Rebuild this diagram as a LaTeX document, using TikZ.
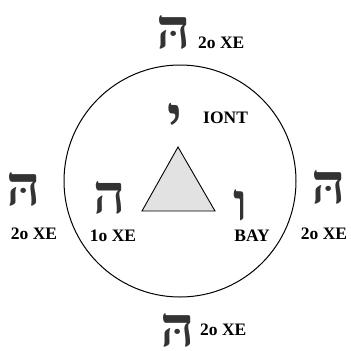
\documentclass[tikz,border=0pt]{standalone}
\usepackage{fontspec}
\setmainfont{Liberation Serif}
\newfontfamily\hebfont[Script=Hebrew]{Liberation Serif}
\TeXXeTstate=1
\usepackage{tikz}
\definecolor{glyph}{HTML}{333333}
\definecolor{tri}{HTML}{E2E2E2}
\newcommand{\tallglyph}[2]{\scalebox{1}[#1]{\beginR #2\endR}}

\begin{document}
\begin{tikzpicture}[x=1pt, y=-1pt,
  letter/.style={inner sep=0pt, text=glyph, font=\hebfont\bfseries\fontsize{56}{56}\selectfont},
  bigletter/.style={letter, font=\hebfont\bfseries\fontsize{60}{60}\selectfont},
  lbl/.style={inner sep=0pt, font=\bfseries\fontsize{17.5}{17.5}\selectfont},
]
\useasboundingbox (0,0) rectangle (351,351);

\draw[line width=1pt] (180,181) circle (116);
\draw[line width=0.9pt, fill=tri] (178,147) -- (142,211) -- (215,211) -- cycle;

\node[bigletter, anchor=base] (heTop) at (174,48) {\tallglyph{0.93}{הּ}};
\node[lbl, anchor=base west] (lblTop) at (198,48) {2o XE};
\node[bigletter, anchor=base] (heLeft) at (24,205) {\tallglyph{0.93}{הּ}};
\node[lbl, anchor=base] (lblLeft) at (34,239) {2o XE};
\node[bigletter, anchor=base] (heRight) at (329,203) {\tallglyph{0.93}{הּ}};
\node[lbl, anchor=base] (lblRight) at (324,239) {2o XE};
\node[bigletter, anchor=base] (heBottom) at (178,346) {\tallglyph{0.93}{הּ}};
\node[lbl, anchor=base west] (lblBottom) at (200,335) {2o XE};

\node[letter, anchor=base] (heFirst) at (110,213) {\tallglyph{0.97}{ה}};
\node[lbl, anchor=base] (lblFirst) at (113,241) {1o XE};
\node[letter, anchor=base] (vav) at (241,220) {\tallglyph{0.93}{ו}};
\node[lbl, anchor=base] (lblVav) at (252,241) {BAY};
\node[letter, anchor=north] (yod) at (175,103) {\tallglyph{1.1}{י}};
\node[lbl, anchor=base west] (lblYod) at (203,123) {IONT};

\end{tikzpicture}
\end{document}
